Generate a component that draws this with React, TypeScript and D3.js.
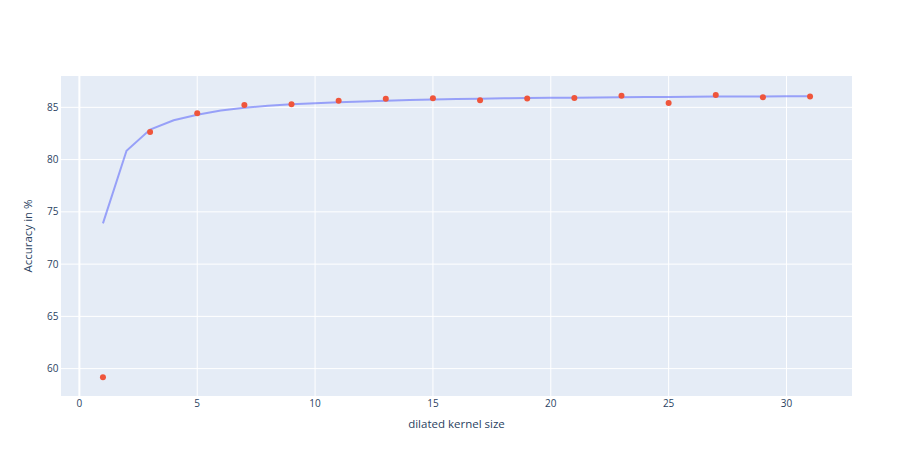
import { useEffect, useRef } from 'react';
import * as d3 from 'd3';

// measured accuracy per dilated kernel size (odd sizes)
const kernelSizes = [1, 3, 5, 7, 9, 11, 13, 15, 17, 19, 21, 23, 25, 27, 29, 31];
const accuracy = [59.17, 82.64, 84.43, 85.22, 85.29, 85.64, 85.83, 85.87, 85.67, 85.84, 85.9, 86.12, 85.41, 86.18, 85.97, 86.03];

// fitted curve, every integer size
const fitSizes = d3.range(1, 32);
const fitValues = [
  73.9, 80.85, 82.87, 83.77, 84.3, 84.7, 84.97, 85.15, 85.29, 85.4,
  85.5, 85.57, 85.64, 85.7, 85.75, 85.79, 85.83, 85.86, 85.89, 85.91,
  85.93, 85.95, 85.97, 85.99, 86.0, 86.02, 86.03, 86.04, 86.05, 86.06, 86.07,
];

const xTicks = [0, 5, 10, 15, 20, 25, 30];
const yTicks = [60, 65, 70, 75, 80, 85];

const COLORS = {
  plotBg: '#e5ecf6',
  grid: '#ffffff',
  text: '#2a3f5f',
  line: '#636efa',
  marker: '#ef553b',
};

const WIDTH = 913;
const HEIGHT = 457;
const FONT = '"Open Sans", verdana, arial, sans-serif';

export default function App() {
  const svgRef = useRef<SVGSVGElement>(null);

  useEffect(() => {
    document.body.style.margin = '0';
    if (!svgRef.current) return;
    const svg = d3.select(svgRef.current);
    svg.selectAll('*').remove();

    const left = 61, right = 852, top = 76, bottom = 396;

    const x = d3.scaleLinear().domain([-0.78, 32.78]).range([left, right]);
    const y = d3.scaleLinear().domain([57.38, 88.0]).range([bottom, top]);

    svg.append('rect')
      .attr('x', left).attr('y', top)
      .attr('width', right - left).attr('height', bottom - top)
      .attr('fill', COLORS.plotBg);

    // grid
    svg.append('g').selectAll('line').data(xTicks).join('line')
      .attr('x1', d => x(d)).attr('x2', d => x(d))
      .attr('y1', top).attr('y2', bottom)
      .attr('stroke', COLORS.grid)
      .attr('stroke-width', d => (d === 0 ? 2 : 1));

    svg.append('g').selectAll('line').data(yTicks).join('line')
      .attr('x1', left).attr('x2', right)
      .attr('y1', d => y(d)).attr('y2', d => y(d))
      .attr('stroke', COLORS.grid)
      .attr('stroke-width', 1);

    // tick labels
    svg.append('g').selectAll('text').data(xTicks).join('text')
      .attr('x', d => x(d)).attr('y', 406.5)
      .attr('text-anchor', 'middle')
      .attr('font-family', FONT).attr('font-size', 10)
      .attr('fill', COLORS.text)
      .text(d => d);

    svg.append('g').selectAll('text').data(yTicks).join('text')
      .attr('x', 58.5).attr('y', d => y(d) + 3.6)
      .attr('text-anchor', 'end')
      .attr('font-family', FONT).attr('font-size', 10)
      .attr('fill', COLORS.text)
      .text(d => d);

    // axis titles
    svg.append('text')
      .attr('x', (left + right) / 2).attr('y', 428)
      .attr('text-anchor', 'middle')
      .attr('font-family', FONT).attr('font-size', 11.5)
      .attr('fill', COLORS.text)
      .text('dilated kernel size');

    svg.append('text')
      .attr('transform', `translate(31.5,${(top + bottom) / 2}) rotate(-90)`)
      .attr('text-anchor', 'middle')
      .attr('font-family', FONT).attr('font-size', 11.5)
      .attr('fill', COLORS.text)
      .text('Accuracy in %');

    // fitted line
    const line = d3.line<number>()
      .x((_, i) => x(fitSizes[i]))
      .y(d => y(d));

    svg.append('path')
      .datum(fitValues)
      .attr('d', line)
      .attr('fill', 'none')
      .attr('stroke', COLORS.line)
      .attr('stroke-opacity', 0.6)
      .attr('stroke-width', 2);

    // measured points
    svg.append('g').selectAll('circle').data(accuracy).join('circle')
      .attr('cx', (_, i) => x(kernelSizes[i]))
      .attr('cy', d => y(d))
      .attr('r', 3)
      .attr('fill', COLORS.marker);
  }, []);

  return <svg ref={svgRef} width={WIDTH} height={HEIGHT} style={{ display: 'block' }} />;
}
